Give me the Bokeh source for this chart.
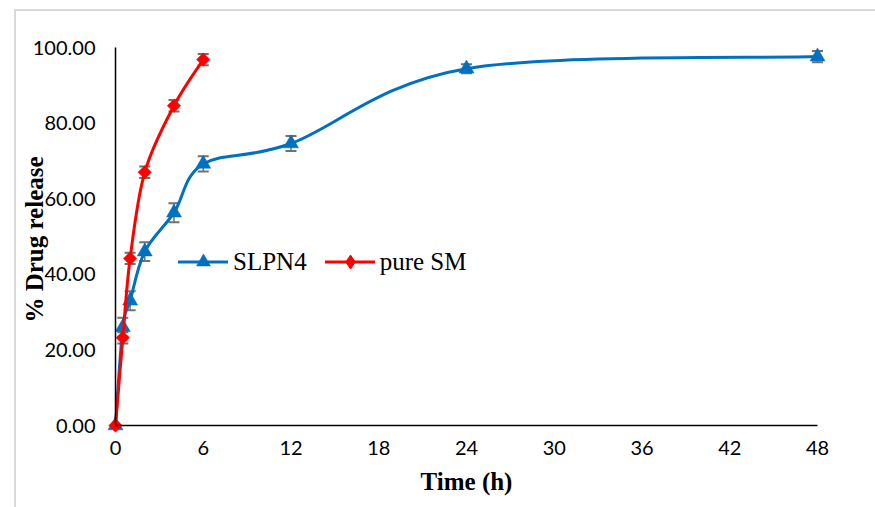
import numpy as np
from bokeh.plotting import figure
from bokeh.models import (ColumnDataSource, Range1d, FixedTicker, NumeralTickFormatter,
                          Whisker, TeeHead, Legend, LegendItem, LinearAxis)
from bokeh.embed import file_html
from bokeh.resources import INLINE

# ---- data ----
time_slpn4 = [0, 0.5, 1, 2, 4, 6, 12, 24, 48]
release_slpn4 = [0, 26.0, 33.0, 46.0, 56.3, 69.2, 74.6, 94.4, 97.6]
err_slpn4 = [0, 2.5, 2.5, 2.5, 2.5, 2.0, 2.0, 1.2, 1.5]

time_sm = [0, 0.5, 1, 2, 4, 6]
release_sm = [0, 23.2, 44.2, 67.0, 84.6, 96.8]
err_sm = [0, 1.5, 1.5, 1.5, 1.5, 1.5]

x_ticks = [0, 6, 12, 18, 24, 30, 36, 42, 48]
y_ticks = [0, 20, 40, 60, 80, 100]

series_names = ["SLPN4", "pure SM"]
BLUE = "#0070C0"
RED = "#FF0000"


def smooth_segments(xs, ys):
    """Bezier control points for an Excel-like smoothed line (Catmull-Rom)."""
    n = len(xs)
    d = dict(x0=[], y0=[], x1=[], y1=[], cx0=[], cy0=[], cx1=[], cy1=[])
    for i in range(n - 1):
        a = max(i - 1, 0)
        b = min(i + 2, n - 1)
        d["x0"].append(xs[i]); d["y0"].append(ys[i])
        d["x1"].append(xs[i + 1]); d["y1"].append(ys[i + 1])
        d["cx0"].append(xs[i] + (xs[i + 1] - xs[a]) / 6.0)
        d["cy0"].append(ys[i] + (ys[i + 1] - ys[a]) / 6.0)
        d["cx1"].append(xs[i + 1] - (xs[b] - xs[i]) / 6.0)
        d["cy1"].append(ys[i + 1] - (ys[b] - ys[i]) / 6.0)
    return ColumnDataSource(d)


p = figure(width=859, height=496,
           x_range=Range1d(-0.615, 48.615), y_range=Range1d(-2.645, 101.06),
           frame_width=720, frame_height=392,
           min_border_left=90, min_border_top=32, min_border_right=49, min_border_bottom=72,
           output_backend="svg", toolbar_location=None)
p.styles = {"margin-left": "14px", "margin-top": "9px",
            "border-left": "2px solid #d9d9d9", "border-top": "2px solid #d9d9d9"}

p.grid.visible = False
p.outline_line_color = None
p.background_fill_color = "white"
p.border_fill_color = "white"

# label-only axes at the frame edges
for ax in (p.xaxis[0], p.yaxis[0]):
    ax.axis_line_color = None
    ax.major_tick_line_color = None
    ax.minor_tick_line_color = None
    ax.major_tick_in = 0
    ax.major_tick_out = 0
    ax.minor_tick_in = 0
    ax.minor_tick_out = 0
    ax.major_label_text_font = "Lato"
    ax.major_label_text_font_size = "20px"
    ax.major_label_text_color = "black"
    ax.axis_label_text_font = "Liberation Serif"
    ax.axis_label_text_font_style = "bold"
    ax.axis_label_text_font_size = "25px"
    ax.axis_label_text_color = "black"

p.xaxis.ticker = FixedTicker(ticks=x_ticks)
p.yaxis.ticker = FixedTicker(ticks=y_ticks)
p.yaxis.formatter = NumeralTickFormatter(format="0.00")
p.xaxis.axis_label = "Time (h)"
p.yaxis.axis_label = "% Drug release"
p.yaxis.major_label_standoff = 11
p.xaxis.major_label_standoff = 5
p.xaxis.axis_label_standoff = 10
p.yaxis.axis_label_standoff = -18

# axis lines crossing at the origin
for side, bnds in (("below", (0, 48)), ("left", (0, 100))):
    la = LinearAxis(fixed_location=0, bounds=bnds, ticker=FixedTicker(ticks=[]),
                    axis_line_color="black", axis_line_width=1.5,
                    major_tick_line_color=None, minor_tick_line_color=None,
                    major_label_text_color=None)
    p.add_layout(la, side)

# error bars
for xs, ys, es in ((time_slpn4, release_slpn4, err_slpn4), (time_sm, release_sm, err_sm)):
    src = ColumnDataSource(dict(x=xs, upper=[y + e for y, e in zip(ys, es)],
                                lower=[y - e for y, e in zip(ys, es)]))
    w = Whisker(base="x", upper="upper", lower="lower", source=src, dimension="height",
                line_color="#707070", line_width=1.5,
                upper_head=TeeHead(size=11, line_color="#707070", line_width=2),
                lower_head=TeeHead(size=11, line_color="#707070", line_width=2))
    p.add_layout(w)

# SLPN4
b_blue = p.bezier(x0="x0", y0="y0", x1="x1", y1="y1", cx0="cx0", cy0="cy0", cx1="cx1", cy1="cy1",
                  source=smooth_segments(time_slpn4, release_slpn4),
                  line_color=BLUE, line_width=3, line_cap="round")
s_blue = p.scatter(time_slpn4, release_slpn4, marker="triangle", size=15,
                   fill_color=BLUE, line_color=BLUE, line_width=0.5)

# pure SM
b_red = p.bezier(x0="x0", y0="y0", x1="x1", y1="y1", cx0="cx0", cy0="cy0", cx1="cx1", cy1="cy1",
                 source=smooth_segments(time_sm, release_sm),
                 line_color=RED, line_width=3, line_cap="round")
s_red_leg = p.scatter(time_sm, release_sm, marker="diamond", size=1,
                      fill_color=RED, line_color=RED)
s_red = p.scatter(time_sm, release_sm, marker="square", size=9.5, angle=np.pi / 4,
                  fill_color=RED, line_color=RED, line_width=0.5)

legend = Legend(items=[LegendItem(label=series_names[0], renderers=[b_blue, s_blue]),
                       LegendItem(label=series_names[1], renderers=[b_red, s_red_leg])],
                orientation="horizontal", location=(72, 156),
                glyph_width=50, glyph_height=35, label_standoff=5, spacing=18,
                padding=0, margin=0, border_line_color=None, background_fill_alpha=0,
                label_text_font="Liberation Serif", label_text_font_size="25px",
                label_text_color="black")
p.add_layout(legend, "center")

open("out.html", "w").write(file_html(p, INLINE))
